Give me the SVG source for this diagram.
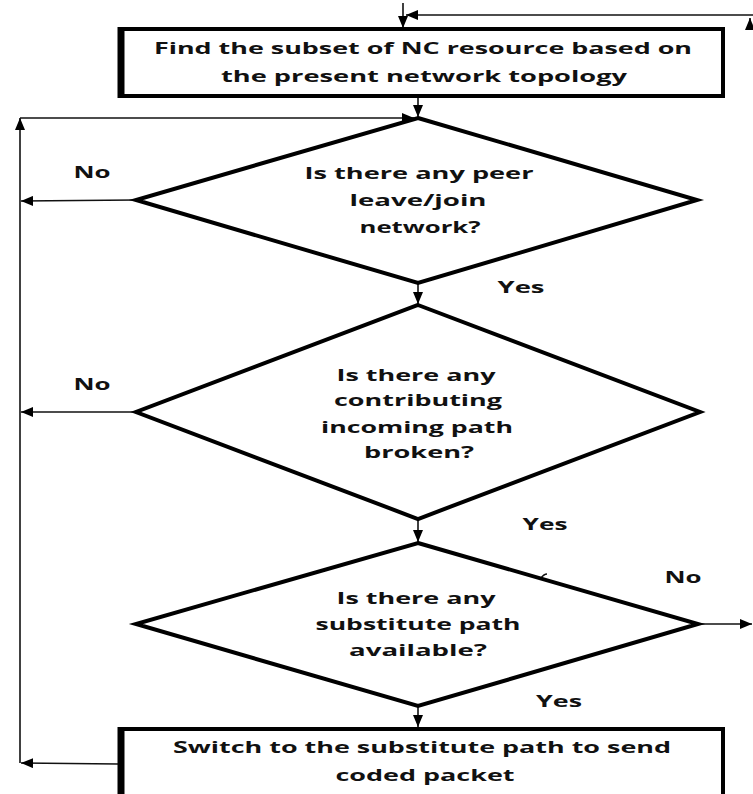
<svg xmlns="http://www.w3.org/2000/svg" width="753" height="794" viewBox="0 0 753 794">
<style>
.t{font-family:"Open Sans","DejaVu Sans",sans-serif;font-weight:bold;font-size:16px;fill:#111;text-anchor:middle}
.shape{fill:#fff;stroke:#000;stroke-width:4;stroke-linejoin:miter}
.c{fill:none;stroke:#111;stroke-width:1.6}
</style>
<defs>
<marker id="ah" viewBox="0 0 12 10" refX="12" refY="5" markerWidth="12" markerHeight="10" markerUnits="userSpaceOnUse" orient="auto">
<path d="M0,0 L12,5 L0,10 Z" fill="#000"/>
</marker>
</defs>
<rect width="753" height="794" fill="#fff"/>
<g id="connectors">
<line class="c" x1="403" y1="3" x2="403" y2="28" marker-end="url(#ah)"/>
<line class="c" x1="753" y1="15" x2="406" y2="15" marker-end="url(#ah)"/>
<line class="c" x1="750" y1="30" x2="750" y2="18" marker-end="url(#ah)"/>
<line class="c" x1="418" y1="96" x2="418" y2="117" marker-end="url(#ah)"/>
<line class="c" x1="20" y1="763" x2="20" y2="118" marker-end="url(#ah)"/>
<line class="c" x1="20" y1="118" x2="414" y2="118" marker-end="url(#ah)"/>
<line class="c" x1="135" y1="200" x2="21" y2="201" marker-end="url(#ah)"/>
<line class="c" x1="418" y1="283" x2="418" y2="304" marker-end="url(#ah)"/>
<line class="c" x1="135" y1="412" x2="21" y2="412" marker-end="url(#ah)"/>
<line class="c" x1="418" y1="519" x2="418" y2="542" marker-end="url(#ah)"/>
<line class="c" x1="698" y1="624" x2="752" y2="624" marker-end="url(#ah)"/>
<line class="c" x1="418" y1="706" x2="418" y2="727" marker-end="url(#ah)"/>
<line class="c" x1="118" y1="764" x2="21" y2="763" marker-end="url(#ah)"/>
<path d="M541,578 q3,-4 6,-4" class="c"/>
</g>
<g id="node-find">
<rect class="shape" x="120" y="29" width="603" height="67"/>
<line x1="121" y1="27" x2="121" y2="98" stroke="#000" stroke-width="7"/>
<text class="t" x="423" y="54" textLength="538" lengthAdjust="spacingAndGlyphs">Find the subset of NC resource based on</text>
<text class="t" x="424" y="82" textLength="406" lengthAdjust="spacingAndGlyphs">the present network topology</text>
</g>
<g id="node-peer">
<polygon class="shape" points="418,118 697,200 418,283 136,200"/>
<text class="t" x="419" y="179" textLength="229" lengthAdjust="spacingAndGlyphs">Is there any peer</text>
<text class="t" x="418" y="206" textLength="137" lengthAdjust="spacingAndGlyphs">leave/join</text>
<text class="t" x="420" y="233" textLength="121" lengthAdjust="spacingAndGlyphs">network?</text>
</g>
<g id="node-broken">
<polygon class="shape" points="418,305 700,412 418,519 136,412"/>
<text class="t" x="416" y="381" textLength="159" lengthAdjust="spacingAndGlyphs">Is there any</text>
<text class="t" x="418" y="406" textLength="168" lengthAdjust="spacingAndGlyphs">contributing</text>
<text class="t" x="417" y="433" textLength="192" lengthAdjust="spacingAndGlyphs">incoming path</text>
<text class="t" x="419" y="458" textLength="110" lengthAdjust="spacingAndGlyphs">broken?</text>
</g>
<g id="node-substitute">
<polygon class="shape" points="418,543 698,624 418,706 136,624"/>
<text class="t" x="416" y="604" textLength="159" lengthAdjust="spacingAndGlyphs">Is there any</text>
<text class="t" x="418" y="630" textLength="205" lengthAdjust="spacingAndGlyphs">substitute path</text>
<text class="t" x="418" y="656" textLength="138" lengthAdjust="spacingAndGlyphs">available?</text>
</g>
<g id="node-switch">
<rect class="shape" x="120" y="729" width="603" height="70"/>
<line x1="121" y1="727" x2="121" y2="794" stroke="#000" stroke-width="7"/>
<text class="t" x="422" y="753" textLength="498" lengthAdjust="spacingAndGlyphs">Switch to the substitute path to send</text>
<text class="t" x="425" y="781" textLength="179" lengthAdjust="spacingAndGlyphs">coded packet</text>
</g>
<g id="labels">
<text class="t" x="92" y="178" textLength="37" lengthAdjust="spacingAndGlyphs">No</text>
<text class="t" x="92" y="390" textLength="37" lengthAdjust="spacingAndGlyphs">No</text>
<text class="t" x="683" y="583" textLength="37" lengthAdjust="spacingAndGlyphs">No</text>
<text class="t" x="521" y="293" textLength="47" lengthAdjust="spacingAndGlyphs">Yes</text>
<text class="t" x="545" y="530" textLength="45" lengthAdjust="spacingAndGlyphs">Yes</text>
<text class="t" x="559" y="707" textLength="46" lengthAdjust="spacingAndGlyphs">Yes</text>
</g>
</svg>
